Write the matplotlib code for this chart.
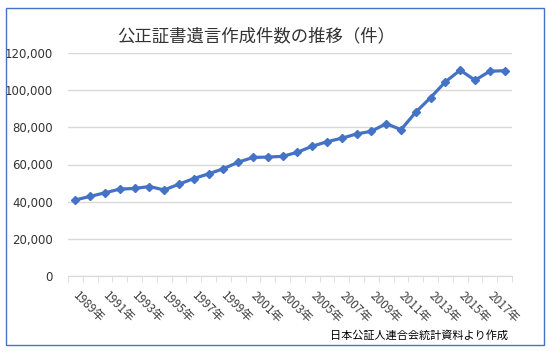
import numpy as np
import matplotlib
matplotlib.use("Agg")
import matplotlib.pyplot as plt
from matplotlib.patches import Rectangle
from matplotlib.ticker import FuncFormatter, FixedLocator

plt.rcParams['font.family'] = ['Noto Sans CJK JP', 'DejaVu Sans']

years = list(range(1989, 2019))
counts = [40935, 42848, 44778, 46764, 47104, 48156, 46301, 49438, 52433, 54973,
          57710, 61255, 63804, 64007, 64376, 66592, 69831, 72235, 74160, 76436,
          77878, 81984, 78754, 88156, 96020, 104490, 110778, 105350, 110191, 110471]
title = "公正証書遺言作成件数の推移（件）"
source = "日本公証人連合会統計資料より作成"

fig = plt.figure(figsize=(5.49, 3.52), dpi=100)
ax = fig.add_axes([68/549, 1-276/352, 444/549, 223/352])

x = np.arange(len(years))
ax.plot(x, counts, color="#4472C4", lw=2.3, marker="D", ms=4, zorder=3)

ax.set_xlim(-0.5, len(years)-0.5)
ax.set_ylim(0, 120000)
ax.set_yticks(range(0, 120001, 20000))
ax.yaxis.set_major_formatter(FuncFormatter(lambda v, p: f"{int(v):,}"))
for lbl in ax.get_yticklabels():
    lbl.set_family("DejaVu Sans")
ax.grid(axis="y", color="#D9D9D9", lw=1)
ax.set_axisbelow(True)
for s in ["top", "right", "left"]:
    ax.spines[s].set_visible(False)
ax.spines["bottom"].set_color("#D9D9D9")
ax.tick_params(axis="y", length=0, labelsize=8.5, labelcolor="#333333", pad=11)

ax.set_xticks(x[::2])
ax.set_xticklabels([f"{y}年" for y in years[::2]], rotation=-45,
                   rotation_mode="anchor", ha="left", va="center")
ax.tick_params(axis="x", which="major", length=0, labelsize=8.5,
               labelcolor="#404040", pad=13)
ax.xaxis.set_minor_locator(FixedLocator(np.arange(-0.5, len(years), 1)))
ax.tick_params(axis="x", which="minor", length=4, color="#D9D9D9")

fig.text(256/549, 1-36/352, title, ha="center", va="center",
         fontsize=12.5, color="#333333")
fig.text(508/549, 1-335/352, source, ha="right", va="center",
         fontsize=8, color="#000000")

fig.add_artist(Rectangle((6/549, 1-345/352), 538/549, 337/352,
                         transform=fig.transFigure, fill=False,
                         edgecolor="#4472C4", lw=1))

fig.savefig("out.png", dpi=100)
